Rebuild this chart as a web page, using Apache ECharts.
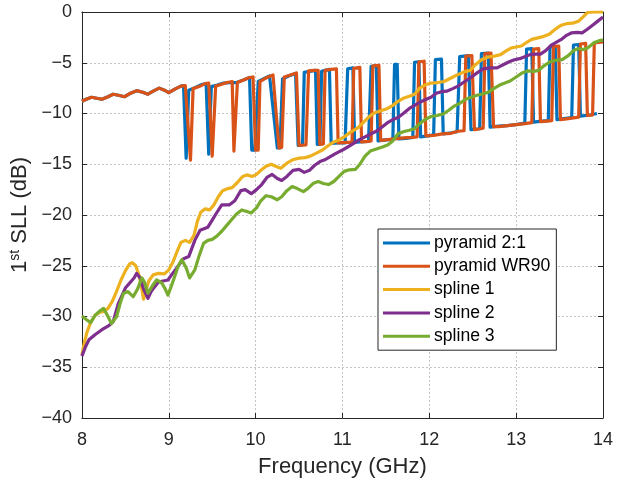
<!DOCTYPE html>
<html>
<head>
<meta charset="utf-8">
<script src="https://cdn.jsdelivr.net/npm/echarts@6/dist/echarts.min.js"></script>
<style>html,body{margin:0;padding:0;background:#fff}#c{width:628px;height:486px}</style>
</head>
<body>
<div id="c"></div>
<script>
// ---------- data (frequency in GHz, 1st SLL in dB) ----------
var seriesNames = ['pyramid 2:1', 'pyramid WR90', 'spline 1', 'spline 2', 'spline 3'];
var xTicks = [8, 9, 10, 11, 12, 13, 14];
var yTicks = [0, -5, -10, -15, -20, -25, -30, -35, -40];

var commonF  = [8.0, 8.05, 8.11, 8.17, 8.23, 8.3, 8.36, 8.42, 8.49, 8.56, 8.63, 8.7, 8.76, 8.82, 8.89, 8.95, 9.0, 9.07, 9.14];
var commonDb = [-8.8, -8.6, -8.4, -8.5, -8.6, -8.35, -8.1, -8.2, -8.35, -8.0, -7.75, -7.9, -8.1, -7.8, -7.5, -7.7, -7.95, -7.6, -7.3];

var pyr21F  = [9.17, 9.2, 9.23, 9.3, 9.38, 9.43, 9.46, 9.49, 9.56, 9.63, 9.7, 9.78, 9.86, 9.93, 9.955, 9.99, 10.03, 10.1, 10.16, 10.25, 10.28, 10.31, 10.38, 10.46, 10.49, 10.54, 10.56, 10.62, 10.69, 10.71, 10.74, 10.76, 10.8, 10.85, 10.87, 10.95, 11.03, 11.06, 11.12, 11.14, 11.2, 11.3, 11.33, 11.39, 11.41, 11.5, 11.58, 11.6, 11.63, 11.65, 11.73, 11.81, 11.83, 11.88, 11.9, 11.98, 12.05, 12.07, 12.14, 12.16, 12.25, 12.32, 12.35, 12.45, 12.48, 12.58, 12.6, 12.68, 12.7, 12.8, 12.9, 13.0, 13.1, 13.12, 13.18, 13.2, 13.3, 13.37, 13.39, 13.45, 13.47, 13.55, 13.64, 13.66, 13.72, 13.74, 13.85, 13.93];
var pyr21Db = [-7.25, -14.4, -7.7, -7.45, -7.15, -7.05, -14.0, -7.35, -7.2, -7.0, -6.95, -6.95, -6.7, -6.45, -13.6, -13.6, -6.85, -6.55, -6.3, -13.4, -13.4, -6.6, -6.3, -6.05, -13.15, -13.1, -5.95, -5.85, -5.75, -13.05, -13.05, -5.85, -5.75, -5.65, -12.95, -12.9, -12.9, -5.6, -5.5, -12.85, -12.8, -12.75, -5.35, -5.3, -12.7, -12.6, -12.55, -5.15, -5.15, -12.5, -12.45, -12.35, -4.95, -4.9, -12.3, -12.2, -12.1, -4.7, -4.65, -12.0, -11.9, -11.8, -4.4, -4.3, -11.6, -11.5, -4.1, -4.05, -11.35, -11.25, -11.2, -11.1, -10.95, -3.65, -3.6, -10.85, -10.75, -10.7, -3.45, -3.4, -10.6, -10.5, -10.4, -3.25, -3.2, -10.25, -10.15, -10.0];

var wr90F  = [9.19, 9.25, 9.28, 9.35, 9.42, 9.46, 9.5, 9.54, 9.6, 9.67, 9.73, 9.75, 9.79, 9.86, 9.93, 9.97, 10.0, 10.03, 10.05, 10.12, 10.2, 10.27, 10.3, 10.33, 10.4, 10.47, 10.5, 10.58, 10.61, 10.67, 10.72, 10.74, 10.78, 10.8, 10.87, 10.93, 10.95, 11.05, 11.11, 11.13, 11.2, 11.22, 11.3, 11.33, 11.35, 11.42, 11.44, 11.5, 11.6, 11.7, 11.8, 11.86, 11.88, 11.94, 11.96, 12.05, 12.15, 12.25, 12.33, 12.4, 12.42, 12.49, 12.52, 12.62, 12.64, 12.71, 12.74, 12.8, 12.9, 13.0, 13.1, 13.18, 13.2, 13.26, 13.28, 13.35, 13.41, 13.43, 13.49, 13.51, 13.6, 13.72, 13.74, 13.8, 13.82, 13.88, 13.9, 14.0];
var wr90Db = [-7.25, -14.6, -7.55, -7.35, -7.05, -7.0, -14.2, -7.3, -7.15, -6.95, -6.85, -13.7, -6.95, -6.7, -6.45, -6.4, -13.6, -13.6, -6.85, -6.5, -6.2, -13.4, -13.35, -6.4, -6.2, -6.0, -13.15, -13.1, -5.8, -5.75, -5.75, -13.05, -13.0, -5.75, -5.65, -5.6, -12.9, -12.85, -12.85, -5.55, -5.45, -12.8, -12.75, -12.7, -5.3, -5.25, -12.65, -12.6, -12.5, -12.4, -12.35, -12.3, -4.9, -4.85, -12.2, -12.15, -12.0, -11.95, -11.75, -11.7, -4.35, -4.3, -11.6, -11.45, -4.1, -4.05, -11.3, -11.3, -11.2, -11.1, -11.0, -10.9, -3.65, -3.6, -10.8, -10.75, -10.7, -3.4, -3.35, -10.6, -10.5, -10.35, -3.15, -3.1, -10.2, -10.15, -3.05, -2.95];

var spline1F  = [8.0, 8.03, 8.06, 8.1, 8.15, 8.2, 8.25, 8.3, 8.35, 8.4, 8.45, 8.5, 8.55, 8.58, 8.62, 8.66, 8.69, 8.71, 8.73, 8.77, 8.82, 8.88, 8.95, 9.0, 9.05, 9.1, 9.14, 9.19, 9.24, 9.29, 9.33, 9.37, 9.42, 9.47, 9.52, 9.57, 9.62, 9.68, 9.73, 9.79, 9.85, 9.9, 9.96, 10.01, 10.06, 10.12, 10.18, 10.23, 10.29, 10.36, 10.43, 10.5, 10.57, 10.63, 10.7, 10.77, 10.83, 10.9, 10.96, 11.02, 11.1, 11.18, 11.25, 11.32, 11.38, 11.45, 11.52, 11.58, 11.64, 11.7, 11.77, 11.83, 11.89, 11.95, 12.02, 12.1, 12.17, 12.25, 12.32, 12.4, 12.47, 12.53, 12.6, 12.67, 12.75, 12.82, 12.88, 12.94, 13.0, 13.06, 13.12, 13.18, 13.25, 13.32, 13.38, 13.45, 13.52, 13.58, 13.65, 13.72, 13.78, 13.82, 13.9, 14.0];
var spline1Db = [-33.8, -32.5, -31.5, -30.6, -29.9, -29.6, -29.5, -29.2, -28.5, -27.5, -26.4, -25.5, -24.8, -24.7, -25.0, -26.0, -27.3, -28.3, -27.6, -26.5, -25.9, -25.75, -25.8, -25.4, -24.6, -23.5, -22.7, -22.5, -22.7, -22.0, -20.6, -19.7, -19.4, -19.5, -19.0, -18.2, -17.6, -17.4, -17.3, -16.8, -16.2, -16.05, -16.2, -16.0, -15.6, -15.2, -15.0, -15.2, -15.4, -14.9, -14.55, -14.4, -14.35, -14.2, -13.9, -13.6, -13.2, -12.8, -12.6, -12.3, -11.8, -11.4, -10.8, -10.2, -9.9, -9.7, -9.5, -9.2, -8.8, -8.5, -8.3, -8.1, -7.5, -7.2, -7.0, -6.95, -6.85, -6.5, -6.2, -5.9, -5.75, -5.2, -4.7, -4.45, -4.35, -4.2, -3.85, -3.55, -3.45, -3.35, -3.0, -2.7, -2.55, -2.4, -2.2, -1.7, -1.3, -1.15, -1.1, -0.9, -0.4, -0.05, 0, 0];

var spline2F  = [8.0, 8.04, 8.08, 8.15, 8.23, 8.31, 8.36, 8.42, 8.5, 8.55, 8.6, 8.63, 8.67, 8.71, 8.76, 8.8, 8.88, 8.99, 9.04, 9.09, 9.17, 9.23, 9.3, 9.36, 9.45, 9.5, 9.55, 9.61, 9.7, 9.76, 9.83, 9.88, 9.95, 10.01, 10.07, 10.13, 10.19, 10.25, 10.3, 10.36, 10.43, 10.5, 10.56, 10.62, 10.68, 10.75, 10.81, 10.87, 10.93, 11.0, 11.06, 11.12, 11.19, 11.26, 11.33, 11.4, 11.46, 11.52, 11.58, 11.64, 11.7, 11.77, 11.83, 11.89, 11.95, 12.02, 12.08, 12.14, 12.2, 12.27, 12.33, 12.4, 12.47, 12.55, 12.62, 12.7, 12.78, 12.85, 12.92, 12.98, 13.04, 13.1, 13.16, 13.22, 13.28, 13.34, 13.4, 13.46, 13.52, 13.58, 13.64, 13.7, 13.76, 13.82, 13.88, 13.94, 14.0];
var spline2Db = [-33.9, -33.0, -32.3, -31.8, -31.3, -30.9, -30.5, -28.7, -27.2, -26.7, -26.2, -25.75, -26.2, -27.3, -28.2, -27.5, -26.6, -26.4, -25.8, -25.25, -24.3, -24.1, -22.5, -21.5, -21.2, -20.5, -19.8, -19.0, -19.0, -18.6, -17.6, -17.5, -17.9, -17.5, -17.0, -16.3, -16.0, -16.4, -16.6, -16.2, -15.6, -15.5, -15.8, -15.6, -15.1, -14.7, -14.5, -14.2, -13.9, -13.6, -13.3, -13.0, -12.6, -12.3, -12.0, -11.7, -11.3, -10.9, -10.6, -10.4, -10.0, -9.5, -9.2, -8.9, -8.65, -8.4, -8.0, -7.85, -7.8, -7.55, -7.3, -6.9, -6.5, -6.0, -5.6, -5.5, -5.5, -5.2, -4.9, -4.7, -4.6, -4.4, -4.2, -4.15, -4.15, -3.8, -3.3, -3.0, -2.7, -2.3, -2.05, -2.0, -2.05, -1.7, -1.3, -0.9, -0.5];

var spline3F  = [8.0, 8.05, 8.1, 8.15, 8.2, 8.25, 8.3, 8.34, 8.4, 8.44, 8.48, 8.53, 8.59, 8.64, 8.69, 8.72, 8.76, 8.81, 8.86, 8.92, 8.96, 8.99, 9.03, 9.07, 9.11, 9.15, 9.2, 9.24, 9.3, 9.35, 9.4, 9.45, 9.5, 9.55, 9.61, 9.67, 9.72, 9.78, 9.84, 9.9, 9.95, 10.01, 10.06, 10.12, 10.18, 10.25, 10.3, 10.36, 10.42, 10.48, 10.55, 10.6, 10.66, 10.72, 10.78, 10.84, 10.9, 10.96, 11.02, 11.08, 11.15, 11.2, 11.26, 11.32, 11.39, 11.46, 11.52, 11.58, 11.64, 11.7, 11.77, 11.83, 11.89, 11.95, 12.02, 12.09, 12.16, 12.22, 12.28, 12.35, 12.42, 12.48, 12.55, 12.62, 12.68, 12.75, 12.81, 12.87, 12.93, 13.0, 13.07, 13.13, 13.2, 13.26, 13.32, 13.39, 13.46, 13.53, 13.6, 13.66, 13.72, 13.78, 13.83, 13.9, 13.95, 14.0];
var spline3Db = [-29.95, -30.3, -30.6, -29.9, -29.5, -29.2, -30.0, -30.7, -30.0, -28.7, -27.7, -27.55, -28.05, -27.3, -26.2, -26.6, -27.7, -27.0, -26.4, -26.7, -27.3, -27.9, -27.0, -26.0, -25.0, -24.4, -25.2, -26.2, -25.4, -24.0, -22.8, -22.5, -22.4, -22.1, -21.6, -21.0, -20.5, -19.9, -19.5, -19.65, -19.8, -19.3, -18.6, -18.1, -18.2, -18.5, -18.2, -17.6, -17.2, -17.4, -17.7, -17.4, -16.9, -16.7, -16.9, -17.0, -16.7, -16.2, -15.7, -15.55, -15.5, -15.0, -14.2, -13.7, -13.5, -13.3, -13.1, -12.7, -12.0, -11.8, -11.65, -11.5, -11.0, -10.6, -10.3, -10.2, -10.05, -9.7, -9.3, -9.0, -8.6, -8.4, -8.2, -8.05, -7.9, -7.5, -7.2, -7.0, -6.8, -6.4, -6.0, -5.8, -5.85, -5.75, -5.3, -4.9, -4.75, -4.7, -4.3, -3.8, -3.6, -3.7, -3.5, -3.0, -2.85, -2.75];

var colors = ['#0072BD', '#D95319', '#EDB120', '#7E2F8E', '#77AC30'];

// ---------- build ----------
function zip(fs, ds) { return fs.map(function (f, i) { return [f, ds[i]]; }); }
var seriesData = [
  zip(commonF.concat(pyr21F), commonDb.concat(pyr21Db)),
  zip(commonF.concat(wr90F), commonDb.concat(wr90Db)),
  zip(spline1F, spline1Db),
  zip(spline2F, spline2Db),
  zip(spline3F, spline3Db)
];

var FONT = '"Liberation Sans", Arial, sans-serif';
var TXT = '#262626';
function fmtNum(v) { return v < 0 ? '\u2212' + String(-v) : String(v); }
var chart = echarts.init(document.getElementById('c'), null, { renderer: 'canvas' });

var gridSplit = { show: true, lineStyle: { color: '#c4c4c4', type: [2, 2], width: 1 } };

chart.setOption({
  backgroundColor: '#fff',
  animation: false,
  color: colors,
  grid: { left: 80, top: 12, right: 25, bottom: 68, containLabel: false },
  xAxis: [{
    type: 'value', min: 8, max: 14, interval: 1, position: 'bottom',
    name: 'Frequency (GHz)', nameLocation: 'middle', nameGap: 38,
    nameTextStyle: { fontSize: 22, color: TXT, fontFamily: FONT },
    axisLine: { show: true, onZero: false, lineStyle: { color: TXT, width: 1 } },
    axisTick: { show: true, inside: true, length: 5, lineStyle: { color: TXT } },
    axisLabel: { fontSize: 18, color: TXT, fontFamily: FONT, margin: 13,
      formatter: function (v) { return xTicks.indexOf(v) >= 0 ? fmtNum(v) : ''; } },
    splitLine: gridSplit
  }, {
    type: 'value', min: 8, max: 14, interval: 1, position: 'top',
    axisLine: { show: true, onZero: false, lineStyle: { color: TXT, width: 1 } },
    axisTick: { show: true, inside: true, length: 5, lineStyle: { color: TXT } },
    axisLabel: { show: false }, splitLine: { show: false }
  }],
  yAxis: [{
    type: 'value', min: -40, max: 0, interval: 5, position: 'left',
    name: '1{sup|st} SLL (dB)', nameLocation: 'middle', nameGap: 45, nameRotate: 90,
    nameTextStyle: { fontSize: 22, color: TXT, fontFamily: FONT,
      rich: { sup: { fontSize: 14, color: TXT, fontFamily: FONT, verticalAlign: 'top', padding: [0, 0, 9, 0] } } },
    axisLine: { show: true, onZero: false, lineStyle: { color: TXT, width: 1 } },
    axisTick: { show: true, inside: true, length: 5, lineStyle: { color: TXT } },
    axisLabel: { fontSize: 18, color: TXT, fontFamily: FONT, margin: 10,
      formatter: function (v) { return yTicks.indexOf(v) >= 0 ? fmtNum(v) : ''; } },
    splitLine: gridSplit
  }, {
    type: 'value', min: -40, max: 0, interval: 5, position: 'right',
    axisLine: { show: true, onZero: false, lineStyle: { color: TXT, width: 1 } },
    axisTick: { show: true, inside: true, length: 5, lineStyle: { color: TXT } },
    axisLabel: { show: false }, splitLine: { show: false }
  }],
  legend: {
    orient: 'vertical', left: 378, top: 229,
    data: seriesNames,
    icon: 'rect', itemWidth: 47, itemHeight: 3, itemGap: 3.3,
    padding: [4, 6, 4, 5],
    backgroundColor: '#fff', borderColor: TXT, borderWidth: 1, borderRadius: 0,
    textStyle: { fontSize: 17.6, color: '#000', fontFamily: FONT, lineHeight: 20, padding: [0, 0, 0, -1] }
  },
  series: seriesNames.map(function (n, i) {
    return {
      name: n, type: 'line', data: seriesData[i], xAxisIndex: 0, yAxisIndex: 0,
      showSymbol: false, symbol: 'none', smooth: false, clip: true,
      lineStyle: { width: 3.2, color: colors[i], join: 'round' },
      itemStyle: { color: colors[i] },
      emphasis: { disabled: true }
    };
  })
});
</script>
</body>
</html>
